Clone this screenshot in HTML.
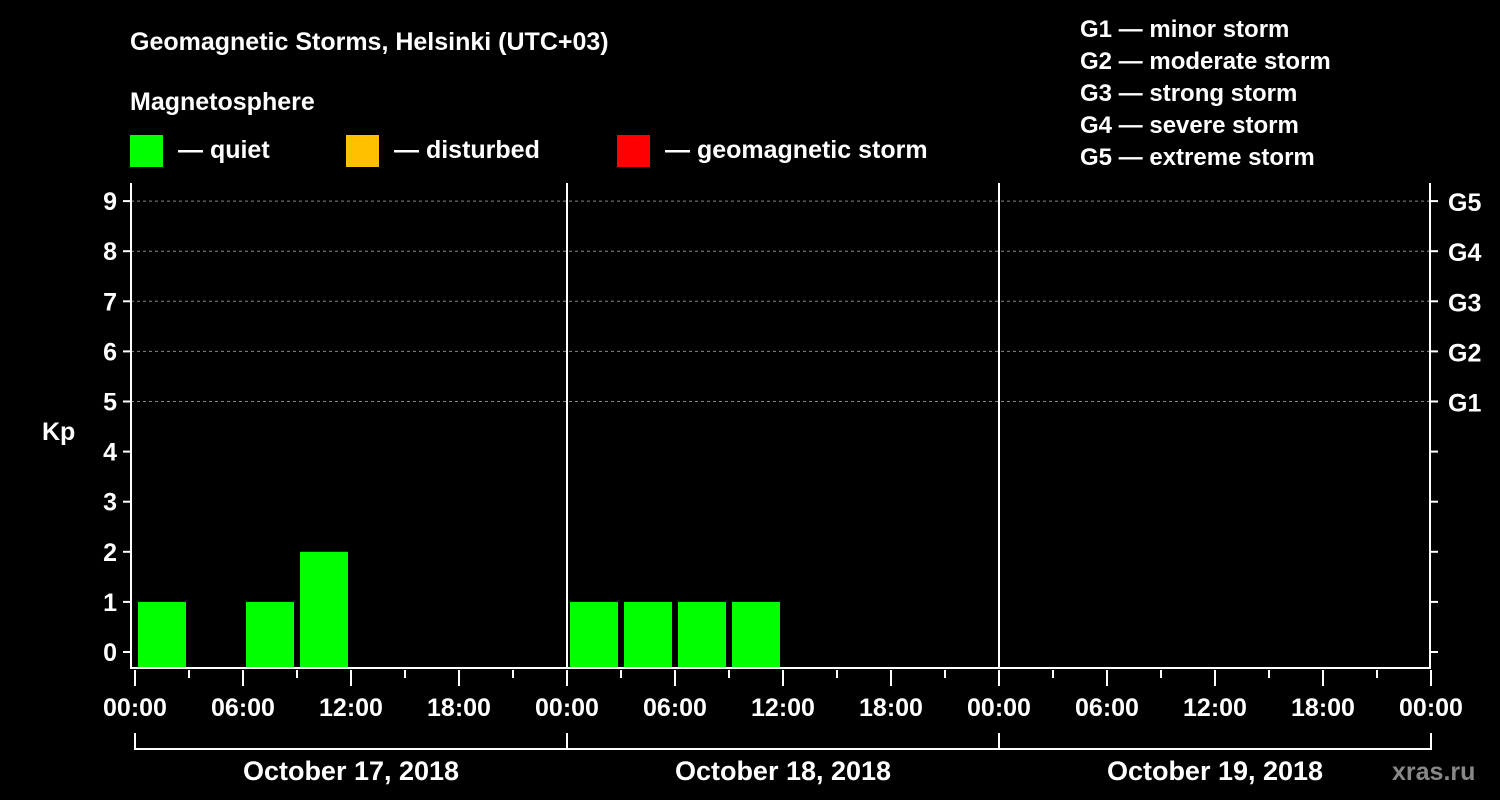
<!DOCTYPE html>
<html><head><meta charset="utf-8"><style>
body{margin:0;background:#000;}
svg{display:block;font-family:"Liberation Sans",Arial,sans-serif;font-weight:bold;fill:#fff;}
</style></head><body>
<svg id="chart" width="1500" height="800" viewBox="0 0 1500 800">
<rect width="1500" height="800" fill="#000"/>
<text x="130" y="50" font-size="25">Geomagnetic Storms, Helsinki (UTC+03)</text>
<text x="130" y="110" font-size="25">Magnetosphere</text>
<g><rect x="130" y="135" width="33" height="32" fill="#00ff00"/><text x="178" y="158" font-size="25">— quiet</text></g>
<g><rect x="346" y="135" width="33" height="32" fill="#ffc000"/><text x="394" y="158" font-size="25">— disturbed</text></g>
<g><rect x="617" y="135" width="33" height="32" fill="#ff0000"/><text x="665" y="158" font-size="25">— geomagnetic storm</text></g>
<g font-size="24">
<text x="1080" y="37">G1 — minor storm</text>
<text x="1080" y="69">G2 — moderate storm</text>
<text x="1080" y="101">G3 — strong storm</text>
<text x="1080" y="133">G4 — severe storm</text>
<text x="1080" y="165">G5 — extreme storm</text>
</g>
<text x="42" y="440" font-size="25">Kp</text>
<g id="grid"></g><g id="bars"></g><g id="axes"></g>
<text x="1392" y="780" font-size="25" fill="#888" style="fill:#888">xras.ru</text>
</svg>
<script>
const days = ["October 17, 2018","October 18, 2018","October 19, 2018"];
const kpDay1 = [1,null,1,2,null,null,null,null];
const kpDay2 = [1,1,1,1,null,null,null,null];
const kpDay3 = [null,null,null,null,null,null,null,null];
const yTicks = [0,1,2,3,4,5,6,7,8,9];
const gLabels = ["G1","G2","G3","G4","G5"];
const xTickLabels = ["00:00","06:00","12:00","18:00"];

const NS="http://www.w3.org/2000/svg";
const X0=135, DAYW=432, PL=131, PR=1430, PT=183, PB=668;
const xAt = h => X0 + h/24*DAYW;
const yAt = v => 652 - v*50.1;
function mk(tag,attrs,parent){const e=document.createElementNS(NS,tag);for(const k in attrs)e.setAttribute(k,attrs[k]);parent.appendChild(e);return e;}
const grid=document.getElementById('grid'), bars=document.getElementById('bars'), axes=document.getElementById('axes');

// grid lines for G levels
gLabels.forEach((g,i)=>{
  const y=yAt(5+i);
  const l=mk('line',{x1:PL,x2:PR,y1:y,y2:y,stroke:'#888','stroke-dasharray':'3,3','stroke-width':1},grid);
  
  
  const t=mk('text',{x:1448,y:y+10,'font-size':25},axes);
  t.textContent=g;
  
  
});
// bars
[kpDay1,kpDay2,kpDay3].forEach((arr,d)=>{
  arr.forEach((v,s)=>{
    if(v===null)return;
    const x=xAt(d*24+s*3)+3, w=DAYW/8-6, y=yAt(v);
    const col = v>=5?'#ff0000':(v>=4?'#ffc000':'#00ff00');
    const r=mk('rect',{x:x,y:y,width:w,height:PB-1-y,fill:col},bars);
    
    
  });
});
// frame
const fr=mk('path',{d:`M${PL},${PT} V${PB} H${PR} V${PT}`,stroke:'#fff','stroke-width':2,fill:'none'},axes);


// day separators
for(let d=1;d<3;d++){
  const x=xAt(d*24);
  const l=mk('line',{x1:x,x2:x,y1:PT,y2:PB,stroke:'#fff','stroke-width':2},axes);
  
  
}
// y ticks
yTicks.forEach(v=>{
  const y=yAt(v);
  const tl=mk('line',{x1:PL-8,x2:PL,y1:y,y2:y,stroke:'#fff','stroke-width':2},axes);
  
  
  const tr=mk('line',{x1:PR,x2:PR+8,y1:y,y2:y,stroke:'#fff','stroke-width':2},axes);
  
  
  const t=mk('text',{x:PL-14,y:y+9,'font-size':25,'text-anchor':'end'},axes);
  t.textContent=v;
  
  
});
// x ticks
for(let h=0;h<=72;h+=3){
  const x=xAt(h), major=h%6===0;
  const l=mk('line',{x1:x,x2:x,y1:PB+2,y2:major?686:678,stroke:'#fff','stroke-width':2},axes);
  
  
  if(major){
    const t=mk('text',{x:x,y:716,'font-size':25,'text-anchor':'middle'},axes);
    t.textContent=xTickLabels[(h%24)/6];
    
    
  }
}
// day brackets
days.forEach((d,i)=>{
  const a=xAt(i*24), b=xAt(i*24+24);
  const p=mk('path',{d:`M${a},733 V749 H${b} V733`,stroke:'#fff','stroke-width':2,fill:'none'},axes);
  
  
  const t=mk('text',{x:(a+b)/2,y:780,'font-size':27,'text-anchor':'middle'},axes);
  t.textContent=d;
  
  
});
</script>
</body></html>
